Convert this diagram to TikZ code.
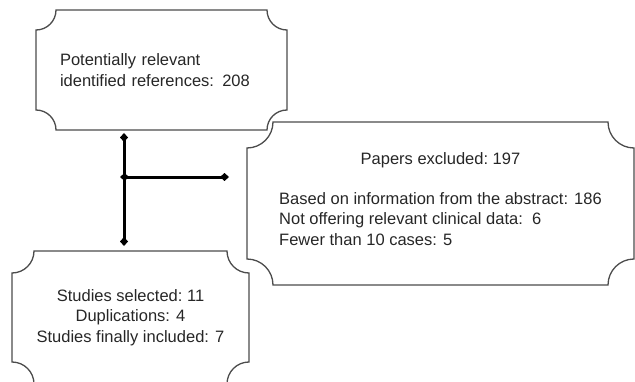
\documentclass[tikz,border=0pt]{standalone}
\usepackage{fontspec}
\usepackage{calc}
\setmainfont{Liberation Sans}
\usetikzlibrary{arrows.meta}

\tikzset{
  plaque/.style={draw=none, rectangle, inner ysep=0pt, outer sep=0pt,
    text=black!85, font=\fontsize{16.5}{20.5}\selectfont},
  plaqueline/.style={draw=black!70, line width=1.3pt},
  conn/.style={line width=3pt, {Diamond[length=9pt,width=8pt]}-{Diamond[length=9pt,width=8pt]}},
}

% concave-corner outline round a node: #1 node name, #2 corner radius
\newcommand{\plaqueoutline}[2]{%
  \draw[plaqueline] ([xshift=#2]#1.north west) -- ([xshift=-#2]#1.north east)
    arc[start angle=180, end angle=270, radius=#2] -- ([yshift=#2]#1.south east)
    arc[start angle=90, end angle=180, radius=#2] -- ([xshift=#2]#1.south west)
    arc[start angle=0, end angle=90, radius=#2] -- ([yshift=-#2]#1.north west)
    arc[start angle=270, end angle=360, radius=#2] -- cycle;
}

\begin{document}
\begin{tikzpicture}[x=1pt, y=1pt]

    \useasboundingbox (0,0) rectangle (635,381);
    \clip (0,0) rectangle (635,381);

    % Boxes
    \node[plaque, align=left, text width=203pt, inner xsep=24pt, minimum height=120pt]
      (refs) at (161.5,311) {Potentially relevant\\identified references: 208};
    \node[plaque, align=left, inner xsep=0pt, minimum width=387pt, minimum height=163pt]
      (excl) at (440.5,177.5) {\makebox[\widthof{Based on information from the abstract: 186}]{Papers excluded:\ 197}\\[19pt]
        Based on information from the abstract: 186\\
        Not offering relevant clinical data:\ \ 6\\
        Fewer than 10 cases: 5\\[-12pt]\mbox{}};
    \node[plaque, align=center, minimum width=237pt, minimum height=133pt]
      (sel) at (130.5,63.5) {Studies selected:\ 11\\Duplications: 4\\Studies finally included: 7};

    \plaqueoutline{refs}{20pt}
    \plaqueoutline{excl}{26pt}
    \plaqueoutline{sel}{22pt}

    % Connectors
    \coordinate (split) at (124,204);
    \draw[conn, shorten <=3pt, shorten >=5pt] (split |- refs.south) -- (split |- sel.north);
    \draw[conn, shorten <=-4pt, shorten >=18pt] (split) -- (split -| excl.west);
\end{tikzpicture}
\end{document}
